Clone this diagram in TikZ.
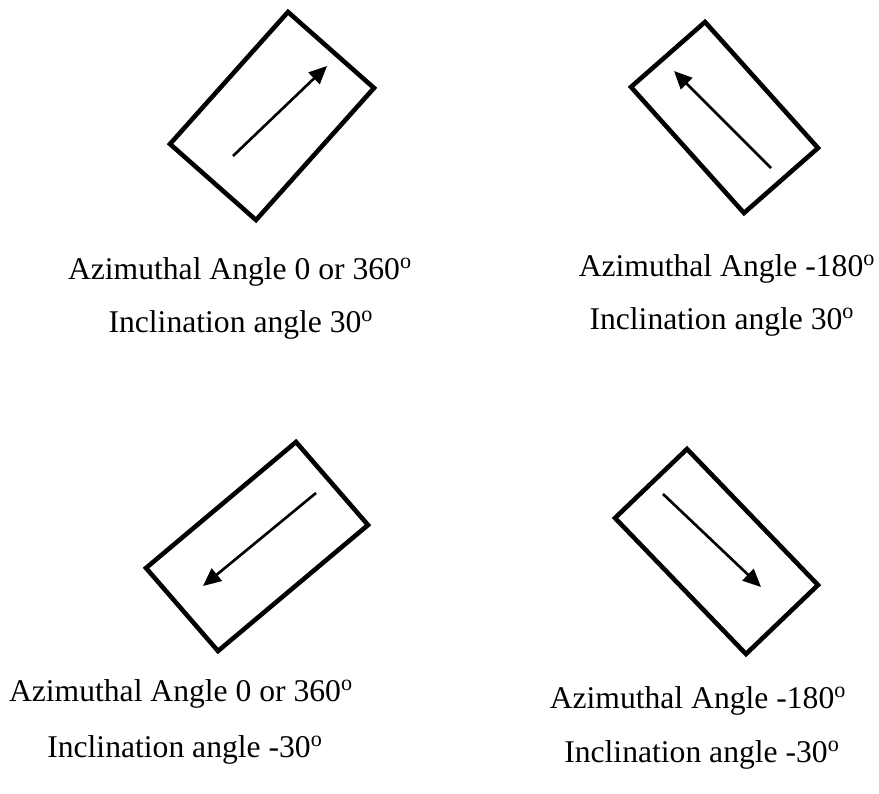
\documentclass[tikz,border=0pt]{standalone}
\usepackage{fontspec}
\setmainfont{Liberation Serif}
\usetikzlibrary{arrows.meta}
\begin{document}
\begin{tikzpicture}[x=0.02cm, y=-0.02cm,
    box/.style={line width=2.6pt, line join=miter},
    arr/.style={line width=1.5pt, -{Triangle[length=0.36cm, width=0.32cm]}},
    lbl/.style={font=\fontsize{18}{21}\selectfont, inner sep=0pt}]
  \useasboundingbox (0,0) rectangle (879,794);

  % Azimuthal 0 or 360, inclination 30
  \draw[box] (288,12) -- (374,88) -- (256,220) -- (170,144) -- cycle;
  \draw[arr] (233,156) -- (327,66);
  \node[lbl] (az1) at (240,272) {Azimuthal Angle 0 or 360\textsuperscript{o}};
  \node[lbl] (in1) at (241,325) {Inclination angle 30\textsuperscript{o}};

  % Azimuthal -180, inclination 30
  \draw[box] (705,22) -- (818,148) -- (744,213) -- (631,87) -- cycle;
  \draw[arr] (771,168) -- (674,71);
  \node[lbl] (az2) at (727,269) {Azimuthal Angle -180\textsuperscript{o}};
  \node[lbl] (in2) at (722,322) {Inclination angle 30\textsuperscript{o}};

  % Azimuthal 0 or 360, inclination -30
  \draw[box] (296,442) -- (368,525) -- (218,651) -- (146,568) -- cycle;
  \draw[arr] (316,493) -- (203,586);
  \node[lbl] (az3) at (181,694) {Azimuthal Angle 0 or 360\textsuperscript{o}};
  \node[lbl] (in3) at (185,750) {Inclination angle -30\textsuperscript{o}};

  % Azimuthal -180, inclination -30
  \draw[box] (687,449) -- (818,585) -- (746,654) -- (615,518) -- cycle;
  \draw[arr] (663,494) -- (761,587);
  \node[lbl] (az4) at (698,701) {Azimuthal Angle -180\textsuperscript{o}};
  \node[lbl] (in4) at (702,755) {Inclination angle -30\textsuperscript{o}};
\end{tikzpicture}
\end{document}
